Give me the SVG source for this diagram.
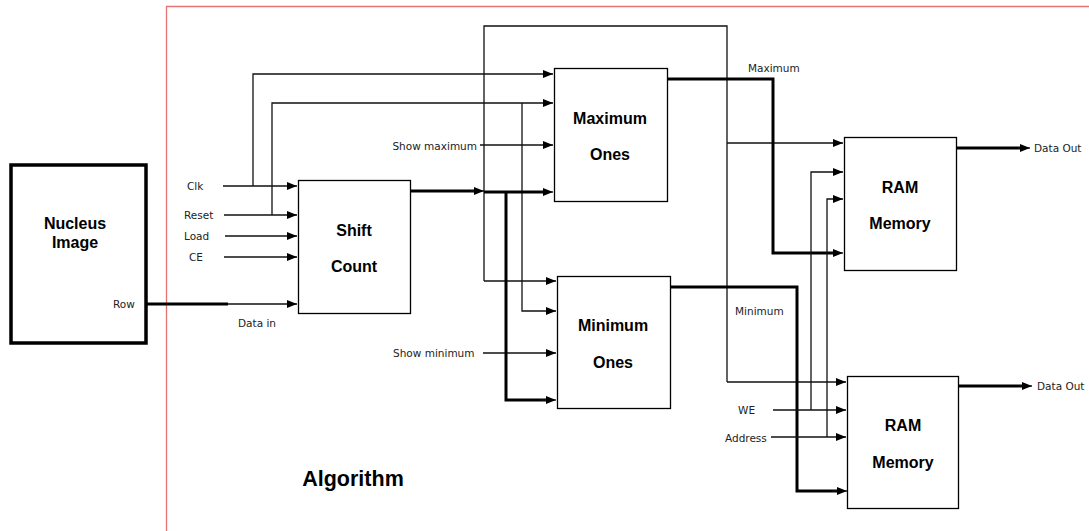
<svg xmlns="http://www.w3.org/2000/svg" width="1089" height="531" viewBox="0 0 1089 531">
<defs>
<marker id="ah" markerUnits="userSpaceOnUse" markerWidth="10" markerHeight="10" viewBox="0 0 10 10" refX="10" refY="5" orient="auto">
<path d="M0,1 L10,5 L0,9 Z" fill="#000"/>
</marker>
<style>
.box{fill:#fff;stroke:#000;stroke-width:1.3}
.nb{fill:#fff;stroke:#000;stroke-width:3.5}
.t{font-family:"Liberation Sans",Arial,sans-serif;font-weight:bold;font-size:16px;fill:#000;text-anchor:middle}
.s{font-family:"DejaVu Sans",Verdana,sans-serif;font-size:10.5px;fill:#222}
.w{fill:none;stroke:#111;stroke-width:1.3}
.a{marker-end:url(#ah)}
.k{fill:none;stroke:#000;stroke-width:3}
</style>
</defs>
<rect width="1089" height="531" fill="#fff"/>
<path d="M166.5,531 V6.5 H1089" fill="none" stroke="#e57373" stroke-width="1.3"/>

<g id="connectors">
<!-- Row / data in -->
<path class="k" d="M146,304 H228"/>
<path class="w a" d="M228,304 H297"/>
<!-- control inputs to Shift Count -->
<path class="w a" d="M223,186 H297"/>
<path class="w a" d="M224,215 H297"/>
<path class="w a" d="M225,236 H297"/>
<path class="w a" d="M224,257 H297"/>
<!-- Clk branch -->
<path class="w a" d="M253,186 V74 H553"/>
<!-- Reset branch -->
<path class="w a" d="M272,215 V103 H553"/>
<path class="w a" d="M522,103 V311 H556"/>
<!-- big loop -->
<path class="w a" d="M484,281 H556"/>
<path class="w" d="M484,281 V26 H727 V382"/>
<path class="w a" d="M727,382 H846"/>
<path class="w a" d="M727,143 H843"/>
<!-- show maximum / minimum -->
<path class="w a" d="M480,145 H553"/>
<path class="w a" d="M483,353 H556"/>
<!-- shift count output -->
<path class="k" d="M411,191 H476"/>
<path class="w a" d="M470,191 H484"/>
<path class="k" d="M484,192 H545"/>
<path class="w a" d="M540,192 H553"/>
<path class="k" d="M506,192 V400 H547"/>
<path class="w a" d="M540,400 H556"/>
<!-- Maximum output -->
<path class="k" d="M668,79 H773 V253 H835"/>
<path class="w a" d="M830,253 H843"/>
<!-- Minimum output -->
<path class="k" d="M671,287 H797 V491 H838"/>
<path class="w a" d="M832,491 H847"/>
<!-- WE / Address -->
<path class="w a" d="M773,410 H846"/>
<path class="w a" d="M771,437 H846"/>
<path class="w a" d="M811,410 V172 H843"/>
<path class="w a" d="M827,437 V199 H843"/>
<!-- data out -->
<path class="k" d="M956,148 H1022"/>
<path class="w a" d="M1018,148 H1030"/>
<path class="k" d="M959,386 H1024"/>
<path class="w a" d="M1020,386 H1032"/>
</g>

<g id="nucleus">
<rect class="nb" x="11" y="165" width="135" height="178"/>
<text class="t" x="75" y="229">Nucleus</text>
<text class="t" x="75" y="248">Image</text>
<text class="s" x="113" y="308">Row</text>
</g>

<g id="shift-count">
<rect class="box" x="298.5" y="180.5" width="112" height="133"/>
<text class="t" x="354" y="236">Shift</text>
<text class="t" x="354" y="272">Count</text>
</g>

<g id="maximum-ones">
<rect class="box" x="554.5" y="68.5" width="113" height="133"/>
<text class="t" x="610" y="124">Maximum</text>
<text class="t" x="610" y="160">Ones</text>
</g>

<g id="minimum-ones">
<rect class="box" x="557.5" y="276.5" width="113" height="132"/>
<text class="t" x="613" y="331">Minimum</text>
<text class="t" x="613" y="368">Ones</text>
</g>

<g id="ram1">
<rect class="box" x="844.5" y="137.5" width="112" height="133"/>
<text class="t" x="900" y="193">RAM</text>
<text class="t" x="900" y="229">Memory</text>
</g>

<g id="ram2">
<rect class="box" x="847.5" y="376.5" width="111" height="132"/>
<text class="t" x="903" y="431">RAM</text>
<text class="t" x="903" y="468">Memory</text>
</g>

<g id="labels">
<text class="s" x="187" y="190">Clk</text>
<text class="s" x="184" y="219">Reset</text>
<text class="s" x="184" y="240">Load</text>
<text class="s" x="189" y="261">CE</text>
<text class="s" x="238" y="327">Data in</text>
<text class="s" x="477" y="150" text-anchor="end">Show maximum</text>
<text class="s" x="393" y="357">Show minimum</text>
<text class="s" x="748" y="72">Maximum</text>
<text class="s" x="735" y="315">Minimum</text>
<text class="s" x="738" y="414">WE</text>
<text class="s" x="725" y="442">Address</text>
<text class="s" x="1034" y="152">Data Out</text>
<text class="s" x="1037" y="390">Data Out</text>
<text class="t" x="353" y="486" style="font-size:21.5px">Algorithm</text>
</g>
</svg>
